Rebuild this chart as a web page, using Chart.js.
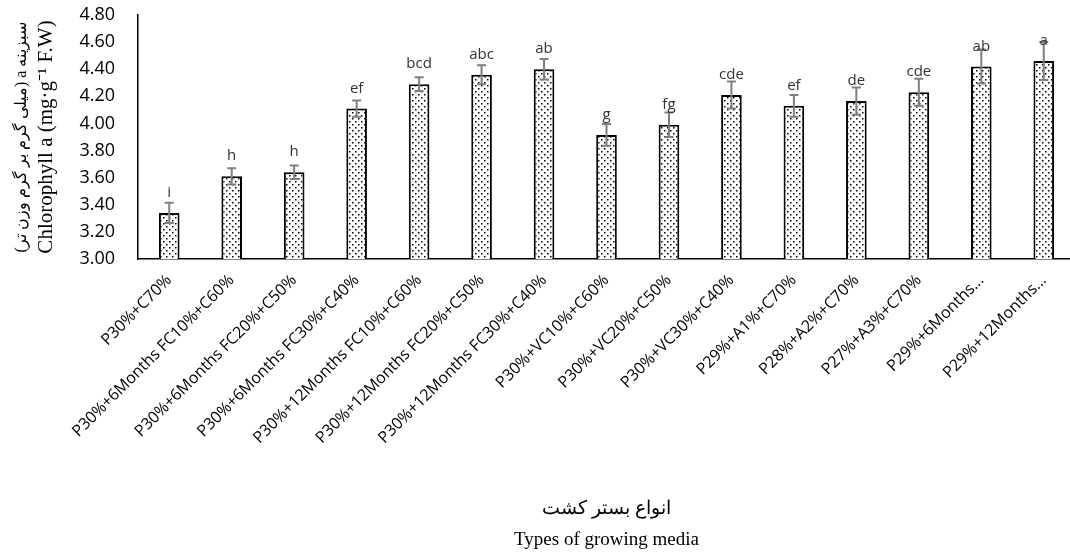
<!DOCTYPE html>
<html>
<head>
<meta charset="utf-8">
<script src="https://cdn.jsdelivr.net/npm/chart.js@4.4.1/dist/chart.umd.min.js"></script>
<style>
  html, body { margin: 0; padding: 0; background: #fff; overflow: hidden; }
  #wrap { width: 1070px; height: 560px; overflow: hidden; }
</style>
</head>
<body>
<div id="wrap"><canvas id="myChart" width="1075" height="560"></canvas></div>
<script>
var media = ["P30%+C70%", "P30%+6Months FC10%+C60%", "P30%+6Months FC20%+C50%", "P30%+6Months FC30%+C40%",
  "P30%+12Months FC10%+C60%", "P30%+12Months FC20%+C50%", "P30%+12Months FC30%+C40%",
  "P30%+VC10%+C60%", "P30%+VC20%+C50%", "P30%+VC30%+C40%",
  "P29%+A1%+C70%", "P28%+A2%+C70%", "P27%+A3%+C70%", "P29%+6Months...", "P29%+12Months..."];
var chlA = [3.34, 3.61, 3.64, 4.11, 4.29, 4.36, 4.40, 3.915, 3.99, 4.21, 4.13, 4.165, 4.23, 4.42, 4.46];
var chlErr = [0.075, 0.06, 0.05, 0.06, 0.05, 0.07, 0.075, 0.08, 0.09, 0.10, 0.08, 0.10, 0.10, 0.125, 0.14];
var letters = ["i", "h", "h", "ef", "bcd", "abc", "ab", "g", "fg", "cde", "ef", "de", "cde", "ab", "a"];
var yTitleFa = "\u202Bسبزینه a (میلی گرم بر گرم وزن تر)\u202C";
var yTitleEn = "Chlorophyll a (mg·g⁻¹ F.W)";

// dotted fill like the excel pattern
var pc = document.createElement("canvas");
pc.width = 6; pc.height = 6;
var pctx = pc.getContext("2d");
pctx.fillStyle = "#fff";
pctx.fillRect(0, 0, 6, 6);
pctx.fillStyle = "#000";
pctx.fillRect(1, 1, 1.5, 1.5);
pctx.fillRect(4, 4, 1.5, 1.5);
var ctx = document.getElementById("myChart");
var dots = ctx.getContext("2d").createPattern(pc, "repeat");

var errorBars = {
  id: "errorBars",
  afterDatasetsDraw: function(chart) {
    var c = chart.ctx;
    var y = chart.scales.y;
    var meta = chart.getDatasetMeta(0);
    c.save();
    c.strokeStyle = "#7f7f7f";
    c.lineWidth = 2;
    meta.data.forEach(function(bar, i) {
      var top = y.getPixelForValue(chlA[i] + chlErr[i]);
      var bot = y.getPixelForValue(chlA[i] - chlErr[i]);
      c.beginPath();
      c.moveTo(bar.x, top); c.lineTo(bar.x, bot);
      c.moveTo(bar.x - 4.5, top); c.lineTo(bar.x + 4.5, top);
      c.moveTo(bar.x - 4.5, bot); c.lineTo(bar.x + 4.5, bot);
      c.stroke();
    });
    c.fillStyle = "#333";
    c.font = "15px 'Open Sans'";
    c.textAlign = "center";
    c.textBaseline = "alphabetic";
    meta.data.forEach(function(bar, i) {
      c.fillText(letters[i], bar.x, bar.y - 16);
    });
    // persian line of the y title, smaller than the english one
    var a = chart.chartArea;
    c.translate(22, (a.top + a.bottom) / 2);
    c.rotate(-Math.PI / 2);
    c.fillStyle = "#000";
    c.font = "16px 'Liberation Serif'";
    c.textBaseline = "middle";
    c.fillText(yTitleFa, 0, 0);
    c.restore();
  }
};

var myChart = new Chart(ctx, {
  type: "bar",
  data: {
    labels: media,
    datasets: [{
      data: chlA,
      backgroundColor: dots,
      borderColor: "#000",
      borderWidth: 2,
      borderSkipped: false,
      barPercentage: 0.33,
      categoryPercentage: 1
    }]
  },
  options: {
    responsive: false,
    animation: false,
    layout: { padding: { top: 15, left: 0, right: 0, bottom: 0 } },
    plugins: { legend: { display: false }, tooltip: { enabled: false } },
    scales: {
      x: {
        grid: { display: false },
        border: { display: true, color: "#000", width: 1.5 },
        ticks: { color: "#000", font: { family: "'Open Sans'", size: 16 }, minRotation: 45, maxRotation: 45, autoSkip: false, padding: 4 },
        title: {
          display: true,
          text: ["انواع بستر کشت", "Types of growing media"],
          color: "#000",
          font: { family: "'Liberation Serif', 'Times New Roman'", size: 19, lineHeight: 1.65 },
          padding: { top: 0, bottom: 4 }
        },
        afterFit: function(scale) { scale.height = 301; scale.paddingTop = 0; }
      },
      y: {
        min: 3, max: 4.8,
        grid: { display: false, drawTicks: false },
        border: { display: true, color: "#000", width: 1.5 },
        ticks: {
          stepSize: 0.2, color: "#000", padding: 23,
          font: { family: "'Open Sans'", size: 18 },
          callback: function(v) { return v.toFixed(2); }
        },
        title: {
          display: true,
          text: yTitleEn,
          color: "#000",
          font: { family: "'Liberation Serif', 'Times New Roman'", size: 21, lineHeight: 1.2 },
          padding: { top: 34, bottom: 0 }
        },
        afterFit: function(scale) { scale.width = 138; scale.paddingTop = 0; scale.paddingBottom = 0; }
      }
    }
  },
  plugins: [errorBars]
});
</script>
</body>
</html>
